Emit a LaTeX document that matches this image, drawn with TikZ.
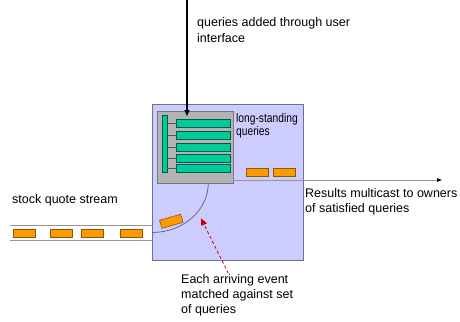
\documentclass[tikz,border=0pt]{standalone}
\usepackage{fontspec}
\setmainfont{Liberation Sans}
\newfontfamily\narrowfont[FakeStretch=0.82]{Liberation Sans}
\usetikzlibrary{arrows.meta,calc}

\definecolor{engineFill}{RGB}{204,204,255}
\definecolor{engineEdge}{RGB}{110,110,150}
\definecolor{panelFill}{RGB}{179,179,179}
\definecolor{panelEdge}{RGB}{120,120,120}
\definecolor{queryFill}{RGB}{0,204,153}
\definecolor{queryEdge}{RGB}{0,90,80}
\definecolor{eventFill}{RGB}{255,153,0}
\definecolor{eventEdge}{RGB}{140,90,0}
\definecolor{wireGray}{RGB}{150,150,150}
\definecolor{curveGray}{RGB}{95,95,120}
\definecolor{matchRed}{RGB}{204,0,0}

\begin{document}
\begin{tikzpicture}[x=1pt,y=-1pt,
  rectnode/.style={rectangle,inner sep=0pt,outer sep=0pt},
  engine/.style={rectnode,draw=engineEdge,fill=engineFill,line width=0.8pt},
  panel/.style={rectnode,draw=panelEdge,fill=panelFill,line width=0.8pt},
  query/.style={rectnode,draw=queryEdge,fill=queryFill,line width=0.6pt},
  event/.style={rectnode,draw=eventEdge,fill=eventFill,line width=0.6pt,
                minimum width=22pt,minimum height=8.5pt},
  tick/.style={draw=panelEdge!70!black,line width=0.7pt},
  wire/.style={draw=wireGray,line width=0.9pt},
  label/.style={inner sep=0pt,anchor=base west,align=left,
                font=\fontsize{12.5}{15}\selectfont},
]
\useasboundingbox (0,0) rectangle (460,321);

% stream wires entering the engine
\coordinate (streamTopStart) at (10,225.7);
\coordinate (streamBotStart) at (10,240.3);
\coordinate (streamTopEnd) at (152,225.7);
\coordinate (streamBotEnd) at (152,240.3);
\draw[wire] (streamTopStart) -- (streamTopEnd);
\draw[wire] (streamBotStart) -- (streamBotEnd);

% the matching engine
\node[engine,minimum width=151pt,minimum height=156pt] (engine) at (227.5,182) {};

% panel of long-standing queries
\node[panel,minimum width=76pt,minimum height=71.5pt] (qset) at (195.3,147.2) {};
\node[query,minimum width=5.3pt,minimum height=57pt] (qbar) at (164.6,143.5) {};
\foreach \i/\y in {1/123,2/135,3/147,4/158.3,5/168.3}{
  \node[query,minimum width=54pt,minimum height=8pt] (q\i) at (203,\y) {};
  \draw[tick] (qbar.east |- q\i.west) -- (q\i.west);
}

% queued events
\node[event] (outA) at (257,172.3) {};
\node[event] (outB) at (284,172.3) {};
\node[event] (inA) at (24,233.2) {};
\node[event] (inB) at (61,233.2) {};
\node[event] (inC) at (92.7,233.2) {};
\node[event] (inD) at (131,233.2) {};
\node[event,rotate=16] (inE) at (171.3,221.3) {};

% path of an event into the query panel
\coordinate (curveTop) at (208.3,183);
\draw[curveGray,line width=0.7pt] (curveTop) arc[start angle=0,end angle=90,x radius=56.3,y radius=49.5];

% incoming queries from the user interface
\coordinate (uiTop) at (187,0);
\coordinate (uiEnd) at (187,116);
\draw[line width=1.1pt,-{Triangle[length=6pt,width=5pt]}] (uiTop) -- (uiEnd);

% results leaving the engine
\coordinate (resultStart) at (qset.east |- 0,180);
\coordinate (resultEnd) at (442,180);
\draw[wire,-{Triangle[length=5pt,width=3.5pt,fill=black,color=black]}] (resultStart) -- (resultEnd);

% matching annotation
\coordinate (matchFrom) at (228.3,273.3);
\coordinate (matchTo) at (201,218.3);
\draw[matchRed,line width=0.8pt,dash pattern=on 3pt off 2.5pt,-{Triangle[length=7pt,width=6pt]}] (matchFrom) -- (matchTo);

% labels (base anchor sits on the last line)
\node[label] (uiLabel) at (197,42) {queries added through user\\interface};
\node[inner sep=0pt,anchor=base west,align=left,font=\narrowfont\fontsize{12.5}{10.5}\selectfont] (qsetLabel) at (236,135) {long-standing\\queries};
\node[label] (streamLabel) at (12,203) {stock quote stream};
\node[label] (resultLabel) at (305,212.7) {Results multicast to owners\\of satisfied queries};
\node[label] (matchLabel) at (181,313.3) {Each arriving event\\matched against set\\of queries};
\end{tikzpicture}
\end{document}
